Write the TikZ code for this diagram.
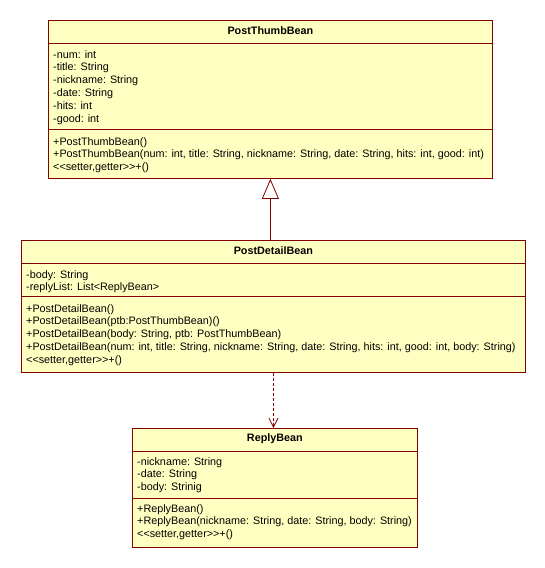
\documentclass[tikz,border=0pt]{standalone}
\usepackage{fontspec}
\setmainfont{Liberation Sans}
\usetikzlibrary{arrows.meta}
\definecolor{umlfill}{RGB}{255,255,194}
\definecolor{umlline}{RGB}{128,0,0}
\tikzset{
	classbox/.style={draw=umlline, fill=umlfill, line width=0.8pt, inner sep=0pt, anchor=north west},
	classname/.style={font=\bfseries\fontsize{10.8}{12}\selectfont},
	members/.style={anchor=north west, align=left, inner sep=0pt, font=\fontsize{10.8}{12.8}\selectfont},
	sep/.style={draw=umlline, line width=0.8pt},
}

\begin{document}
\begin{tikzpicture}[x=1pt,y=-1pt]
	\useasboundingbox (0,0) rectangle (545,568);
	% PostThumbBean
	\node[classbox, minimum width=444pt, minimum height=158pt] (ptb) at (48,20) {};
	\node[classname] (ptbname) at ([yshift=-11pt]ptb.north) {PostThumbBean};
	\draw[sep] ([yshift=-23pt]ptb.north west) -- ([yshift=-23pt]ptb.north east);
	\draw[sep] ([yshift=-109pt]ptb.north west) -- ([yshift=-109pt]ptb.north east);
	\node[members] (ptbattr) at ([xshift=5pt,yshift=-30pt]ptb.north west)
	{-num: int\\-title: String\\-nickname: String\\-date: String\\-hits: int\\-good: int};
	\node[members] (ptbops) at ([xshift=5pt,yshift=-117pt]ptb.north west)
	{+PostThumbBean()\\+PostThumbBean(num: int, title: String, nickname: String, date: String, hits: int, good: int)\\<{}<setter,getter>{}>+()};
	% PostDetailBean
	\node[classbox, minimum width=504pt, minimum height=132pt] (pdb) at (21,240) {};
	\node[classname] (pdbname) at ([yshift=-11pt]pdb.north) {PostDetailBean};
	\draw[sep] ([yshift=-23pt]pdb.north west) -- ([yshift=-23pt]pdb.north east);
	\draw[sep] ([yshift=-56pt]pdb.north west) -- ([yshift=-56pt]pdb.north east);
	\node[members] (pdbattr) at ([xshift=5pt,yshift=-30pt]pdb.north west)
	{-body: String\\-replyList: List<ReplyBean>};
	\node[members] (pdbops) at ([xshift=5pt,yshift=-64pt]pdb.north west)
	{+PostDetailBean()\\+PostDetailBean(ptb:PostThumbBean)()\\+PostDetailBean(body: String, ptb: PostThumbBean)\\+PostDetailBean(num: int, title: String, nickname: String, date: String, hits: int, good: int, body: String)\\<{}<setter,getter>{}>+()};
	% ReplyBean
	\node[classbox, minimum width=285pt, minimum height=119pt] (rb) at (132,428) {};
	\node[classname] (rbname) at ([yshift=-11pt]rb.north) {ReplyBean};
	\draw[sep] ([yshift=-23pt]rb.north west) -- ([yshift=-23pt]rb.north east);
	\draw[sep] ([yshift=-70pt]rb.north west) -- ([yshift=-70pt]rb.north east);
	\node[members] (rbattr) at ([xshift=5pt,yshift=-29pt]rb.north west)
	{-nickname: String\\-date: String\\-body: Strinig};
	\node[members] (rbops) at ([xshift=5pt,yshift=-76pt]rb.north west)
	{+ReplyBean()\\+ReplyBean(nickname: String, date: String, body: String)\\<{}<setter,getter>{}>+()};
	% generalization
	\draw[umlline, line width=0.8pt, -{Triangle[open, length=20pt, width=17pt]}]
	(ptb.south |- pdb.north) -- (ptb.south);
	% dependency
	\draw[umlline, line width=0.8pt, dash pattern=on 3pt off 2pt, -{Straight Barb[length=9pt, width=9pt]}]
	(pdb.south) -- (pdb.south |- rb.north);
\end{tikzpicture}
\end{document}
